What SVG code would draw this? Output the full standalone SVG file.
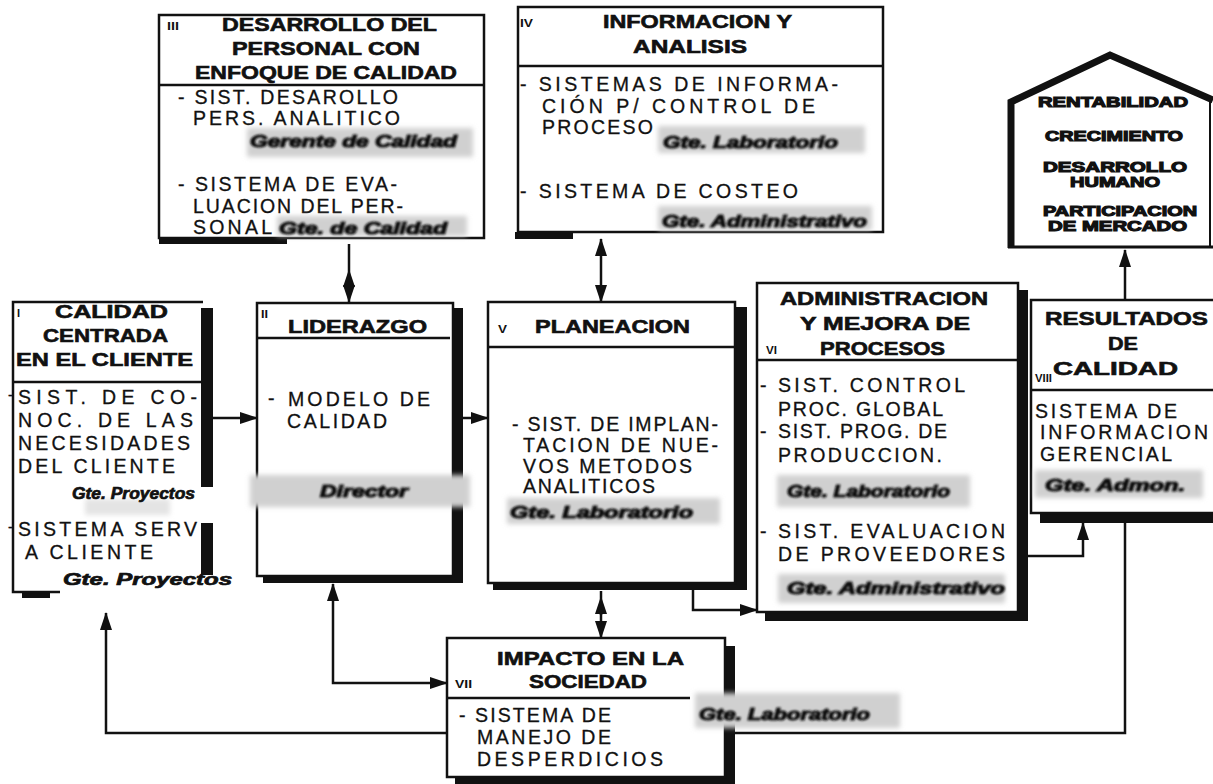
<svg xmlns="http://www.w3.org/2000/svg" width="1213" height="784" viewBox="0 0 1213 784">
  <defs>
    <style>
      .box{fill:#fff;stroke:#111;stroke-width:2.5}
      .open{fill:none;stroke:#111;stroke-width:2.5}
      .dv{stroke:#111;stroke-width:2.5}
      .sh{fill:#111}
      .hd{font-family:"Liberation Sans",Arial,sans-serif;font-weight:bold;font-size:18px;fill:#111;stroke:#111;stroke-width:0.6}
      .num{font-family:"Liberation Sans",Arial,sans-serif;font-weight:bold;font-size:11px;fill:#111}
      .bd{font-family:"Liberation Sans",Arial,sans-serif;font-size:19.5px;fill:#111;stroke:#111;stroke-width:0.3}
      .gt{font-family:"Liberation Sans",Arial,sans-serif;font-weight:bold;font-style:italic;font-size:16px;fill:#111;stroke:#111;stroke-width:1.1;filter:url(#smudge)}
      .gt2{font-family:"Liberation Sans",Arial,sans-serif;font-weight:bold;font-style:italic;font-size:16px;fill:#111;stroke:#111;stroke-width:0.7}
      .band{fill:#d0d0d0;filter:url(#haze)}
      .faint{fill:#e4e4e4;filter:url(#haze)}
      .hs{font-family:"Liberation Sans",Arial,sans-serif;font-weight:bold;font-size:14px;fill:#111;stroke:#111;stroke-width:1.1}
      .ln{fill:none;stroke:#111;stroke-width:2.5}
    </style>
    <filter id="haze" x="-10%" y="-40%" width="120%" height="180%">
      <feGaussianBlur stdDeviation="2.5"/>
    </filter>
    <filter id="smudge" x="-5%" y="-30%" width="110%" height="160%">
      <feGaussianBlur stdDeviation="0.8"/>
    </filter>
    <marker id="ah" markerUnits="userSpaceOnUse" markerWidth="18" markerHeight="12" refX="17" refY="6" orient="auto-start-reverse">
      <path d="M0,0 L18,6 L0,12 Z" fill="#111"/>
    </marker>
  </defs>

  <rect width="1213" height="784" fill="#fff"/>

  <!-- III: staff development -->
  <g id="box3">
    <rect class="sh" x="159" y="237" width="128" height="7"/>
    <rect class="box" x="159" y="15" width="325" height="223"/>
    <line class="dv" x1="159" y1="85" x2="484" y2="85"/>
    <text class="num" x="167" y="30" textLength="12" lengthAdjust="spacingAndGlyphs">III</text>
    <text class="hd" x="222" y="31" textLength="215" lengthAdjust="spacingAndGlyphs">DESARROLLO DEL</text>
    <text class="hd" x="232" y="55" textLength="188" lengthAdjust="spacingAndGlyphs">PERSONAL CON</text>
    <text class="hd" x="195" y="79" textLength="262" lengthAdjust="spacingAndGlyphs">ENFOQUE DE CALIDAD</text>
    <text class="bd" x="178" y="104" textLength="220" lengthAdjust="spacing">- SIST. DESAROLLO</text>
    <text class="bd" x="193" y="125" textLength="207" lengthAdjust="spacing">PERS. ANALITICO</text>
    <rect class="band" x="247" y="128" width="226" height="29"/>
    <text class="gt" x="250" y="147" textLength="207" lengthAdjust="spacingAndGlyphs">Gerente de Calidad</text>
    <text class="bd" x="178" y="191" textLength="219" lengthAdjust="spacing">- SISTEMA DE EVA-</text>
    <text class="bd" x="193" y="213" textLength="210" lengthAdjust="spacing">LUACION DEL PER-</text>
    <text class="bd" x="193" y="234" textLength="79" lengthAdjust="spacing">SONAL</text>
    <rect class="band" x="277" y="216" width="190" height="20"/>
    <text class="gt" x="279" y="234" textLength="168" lengthAdjust="spacingAndGlyphs">Gte. de Calidad</text>
  </g>

  <!-- IV: information and analysis -->
  <g id="box4">
    <rect class="sh" x="515" y="232" width="58" height="7"/>
    <rect class="box" x="518" y="7" width="365" height="225"/>
    <line class="dv" x1="518" y1="66" x2="883" y2="66"/>
    <text class="num" x="520" y="27" textLength="13" lengthAdjust="spacingAndGlyphs">IV</text>
    <text class="hd" x="603" y="28" textLength="189" lengthAdjust="spacingAndGlyphs">INFORMACION Y</text>
    <text class="hd" x="633" y="53" textLength="114" lengthAdjust="spacingAndGlyphs">ANALISIS</text>
    <text class="bd" x="520" y="91" textLength="318" lengthAdjust="spacing">- SISTEMAS DE INFORMA-</text>
    <text class="bd" x="542" y="113" textLength="273" lengthAdjust="spacing">CIÓN P/ CONTROL DE</text>
    <text class="bd" x="542" y="134" textLength="111" lengthAdjust="spacing">PROCESO</text>
    <rect class="band" x="658" y="126" width="207" height="27"/>
    <text class="gt" x="663" y="148" textLength="175" lengthAdjust="spacingAndGlyphs">Gte. Laboratorio</text>
    <text class="bd" x="520" y="198" textLength="278" lengthAdjust="spacing">- SISTEMA DE COSTEO</text>
    <rect class="band" x="658" y="206" width="214" height="24"/>
    <text class="gt" x="662" y="227" textLength="205" lengthAdjust="spacingAndGlyphs">Gte. Administrativo</text>
  </g>

  <!-- results house -->
  <g id="house">
    <path class="open" d="M1011,248 V102 L1110,55 L1213,100" style="stroke-width:7;stroke-linejoin:miter"/>
    <path class="open" d="M1008,247 H1213" style="stroke-width:3"/>
    <path class="open" d="M1210,100 V247" style="stroke-width:2"/>
    <text class="hs" x="1038" y="107" textLength="150" lengthAdjust="spacingAndGlyphs">RENTABILIDAD</text>
    <text class="hs" x="1045" y="141" textLength="138" lengthAdjust="spacingAndGlyphs">CRECIMIENTO</text>
    <text class="hs" x="1043" y="172" textLength="144" lengthAdjust="spacingAndGlyphs">DESARROLLO</text>
    <text class="hs" x="1070" y="187" textLength="90" lengthAdjust="spacingAndGlyphs">HUMANO</text>
    <text class="hs" x="1043" y="216" textLength="154" lengthAdjust="spacingAndGlyphs">PARTICIPACION</text>
    <text class="hs" x="1048" y="231" textLength="139" lengthAdjust="spacingAndGlyphs">DE MERCADO</text>
  </g>

  <!-- I: customer-centred quality -->
  <g id="box1">
    <rect class="sh" x="201" y="308" width="12" height="179"/>
    <rect class="sh" x="201" y="523" width="12" height="52"/>
    <rect class="sh" x="22" y="591" width="28" height="7"/>
    <path class="open" d="M60,592 H13 V302 H203"/>
    <line class="dv" x1="13" y1="382" x2="203" y2="382"/>
    <text class="num" x="17" y="317">I</text>
    <text class="hd" x="55" y="318" textLength="113" lengthAdjust="spacingAndGlyphs">CALIDAD</text>
    <text class="hd" x="43" y="342" textLength="125" lengthAdjust="spacingAndGlyphs">CENTRADA</text>
    <text class="hd" x="16" y="366" textLength="177" lengthAdjust="spacingAndGlyphs">EN EL CLIENTE</text>
    <text class="bd" x="8" y="400" style="font-size:14px">-</text>
    <text class="bd" x="18" y="404" textLength="179" lengthAdjust="spacing">SIST. DE CO-</text>
    <text class="bd" x="18" y="427" textLength="175" lengthAdjust="spacing">NOC. DE LAS</text>
    <text class="bd" x="18" y="450" textLength="172" lengthAdjust="spacing">NECESIDADES</text>
    <text class="bd" x="18" y="473" textLength="157" lengthAdjust="spacing">DEL CLIENTE</text>
    <rect class="faint" x="85" y="499" width="85" height="16"/>
    <text class="gt2" x="72" y="499" textLength="123" lengthAdjust="spacingAndGlyphs">Gte. Proyectos</text>
    <text class="bd" x="8" y="532" style="font-size:14px">-</text>
    <text class="bd" x="18" y="536" textLength="179" lengthAdjust="spacing">SISTEMA SERV</text>
    <text class="bd" x="25" y="559" textLength="128" lengthAdjust="spacing">A CLIENTE</text>
    <text class="gt2" x="63" y="585" textLength="169" lengthAdjust="spacingAndGlyphs">Gte. Proyectos</text>
  </g>

  <!-- II: leadership -->
  <g id="box2">
    <rect class="sh" x="453" y="308" width="10" height="275"/>
    <rect class="sh" x="263" y="576" width="200" height="7"/>
    <rect class="box" x="257" y="303" width="196" height="273"/>
    <line class="dv" x1="257" y1="338" x2="450" y2="338"/>
    <text class="num" x="261" y="318" textLength="7" lengthAdjust="spacingAndGlyphs">II</text>
    <text class="hd" x="288" y="333" textLength="139" lengthAdjust="spacingAndGlyphs">LIDERAZGO</text>
    <text class="bd" x="268" y="405">-</text>
    <text class="bd" x="288" y="406" textLength="142" lengthAdjust="spacing">MODELO DE</text>
    <text class="bd" x="287" y="428" textLength="100" lengthAdjust="spacing">CALIDAD</text>
    <rect class="band" x="250" y="475" width="220" height="32"/>
    <text class="gt" x="320" y="497" textLength="88" lengthAdjust="spacingAndGlyphs">Director</text>
  </g>

  <!-- V: planning -->
  <g id="box5">
    <rect class="sh" x="735" y="307" width="12" height="283"/>
    <rect class="sh" x="493" y="583" width="254" height="7"/>
    <rect class="box" x="488" y="302" width="247" height="281"/>
    <line class="dv" x1="488" y1="347" x2="735" y2="347"/>
    <text class="num" x="498" y="333" textLength="9" lengthAdjust="spacingAndGlyphs">V</text>
    <text class="hd" x="535" y="333" textLength="155" lengthAdjust="spacingAndGlyphs">PLANEACION</text>
    <text class="bd" x="512" y="431" textLength="206" lengthAdjust="spacing">- SIST. DE IMPLAN-</text>
    <text class="bd" x="523" y="452" textLength="195" lengthAdjust="spacing">TACION DE NUE-</text>
    <text class="bd" x="523" y="473" textLength="169" lengthAdjust="spacing">VOS METODOS</text>
    <text class="bd" x="523" y="493" textLength="132" lengthAdjust="spacing">ANALITICOS</text>
    <rect class="band" x="507" y="498" width="213" height="26"/>
    <text class="gt" x="510" y="518" textLength="183" lengthAdjust="spacingAndGlyphs">Gte. Laboratorio</text>
  </g>

  <!-- VI: process management -->
  <g id="box6">
    <rect class="sh" x="1018" y="290" width="10" height="331"/>
    <rect class="sh" x="765" y="612" width="263" height="9"/>
    <rect class="box" x="757" y="283" width="261" height="329"/>
    <line class="dv" x1="757" y1="360" x2="1018" y2="360"/>
    <text class="hd" x="780" y="305" textLength="208" lengthAdjust="spacingAndGlyphs">ADMINISTRACION</text>
    <text class="hd" x="800" y="330" textLength="170" lengthAdjust="spacingAndGlyphs">Y MEJORA DE</text>
    <text class="num" x="766" y="354" textLength="11" lengthAdjust="spacingAndGlyphs">VI</text>
    <text class="hd" x="820" y="355" textLength="125" lengthAdjust="spacingAndGlyphs">PROCESOS</text>
    <text class="bd" x="760" y="392">-</text>
    <text class="bd" x="778" y="392" textLength="187" lengthAdjust="spacing">SIST. CONTROL</text>
    <text class="bd" x="778" y="416" textLength="165" lengthAdjust="spacing">PROC. GLOBAL</text>
    <text class="bd" x="760" y="438">-</text>
    <text class="bd" x="778" y="438" textLength="169" lengthAdjust="spacing">SIST. PROG. DE</text>
    <text class="bd" x="778" y="462" textLength="164" lengthAdjust="spacing">PRODUCCION.</text>
    <rect class="band" x="777" y="475" width="193" height="32"/>
    <text class="gt" x="787" y="497" textLength="163" lengthAdjust="spacingAndGlyphs">Gte. Laboratorio</text>
    <text class="bd" x="760" y="538">-</text>
    <text class="bd" x="778" y="538" textLength="227" lengthAdjust="spacing">SIST. EVALUACION</text>
    <text class="bd" x="778" y="561" textLength="227" lengthAdjust="spacing">DE PROVEEDORES</text>
    <rect class="band" x="778" y="574" width="227" height="29"/>
    <text class="gt" x="787" y="594" textLength="218" lengthAdjust="spacingAndGlyphs">Gte. Administrativo</text>
  </g>

  <!-- VIII: quality results -->
  <g id="box8">
    <rect class="sh" x="1040" y="513" width="173" height="10"/>
    <rect class="box" x="1031" y="300" width="190" height="213"/>
    <line class="dv" x1="1031" y1="390" x2="1213" y2="390"/>
    <text class="hd" x="1045" y="325" textLength="163" lengthAdjust="spacingAndGlyphs">RESULTADOS</text>
    <text class="hd" x="1108" y="350" textLength="30" lengthAdjust="spacingAndGlyphs">DE</text>
    <text class="num" x="1035" y="382" textLength="17" lengthAdjust="spacingAndGlyphs">VIII</text>
    <text class="hd" x="1053" y="375" textLength="125" lengthAdjust="spacingAndGlyphs">CALIDAD</text>
    <text class="bd" x="1035" y="418" textLength="142" lengthAdjust="spacing">SISTEMA DE</text>
    <text class="bd" x="1040" y="439" textLength="168" lengthAdjust="spacing">INFORMACION</text>
    <text class="bd" x="1040" y="461" textLength="132" lengthAdjust="spacing">GERENCIAL</text>
    <rect class="band" x="1035" y="470" width="168" height="28"/>
    <text class="gt" x="1045" y="491" textLength="140" lengthAdjust="spacingAndGlyphs">Gte. Admon.</text>
  </g>

  <!-- VII: impact on society -->
  <g id="box7">
    <rect class="sh" x="725" y="646" width="10" height="138"/>
    <rect class="sh" x="455" y="777" width="280" height="7"/>
    <rect class="box" x="447" y="638" width="278" height="139"/>
    <line class="dv" x1="447" y1="698" x2="690" y2="698"/>
    <text class="hd" x="497" y="665" textLength="187" lengthAdjust="spacingAndGlyphs">IMPACTO EN LA</text>
    <text class="num" x="455" y="688" textLength="17" lengthAdjust="spacingAndGlyphs">VII</text>
    <text class="hd" x="529" y="688" textLength="118" lengthAdjust="spacingAndGlyphs">SOCIEDAD</text>
    <text class="bd" x="459" y="722" textLength="152" lengthAdjust="spacing">- SISTEMA DE</text>
    <text class="bd" x="477" y="744" textLength="134" lengthAdjust="spacing">MANEJO DE</text>
    <text class="bd" x="477" y="766" textLength="186" lengthAdjust="spacing">DESPERDICIOS</text>
    <rect class="band" x="695" y="693" width="205" height="35"/>
    <text class="gt" x="699" y="720" textLength="171" lengthAdjust="spacingAndGlyphs">Gte. Laboratorio</text>
  </g>

  <!-- connectors -->
  <g id="connectors">
    <!-- II <-> III -->
    <path class="ln" d="M349,244 V270"/>
    <path class="ln" d="M349,288 V270" marker-end="url(#ah)"/>
    <path class="ln" d="M349,286 V302" marker-end="url(#ah)"/>
    <!-- IV <-> V -->
    <path class="ln" d="M601,239 V302" marker-start="url(#ah)" marker-end="url(#ah)"/>
    <!-- I -> II -->
    <path class="ln" d="M213,418 H257" marker-end="url(#ah)"/>
    <!-- II -> V -->
    <path class="ln" d="M463,418 H488" marker-end="url(#ah)"/>
    <!-- V -> VI -->
    <path class="ln" d="M693,590 V610 H757" marker-end="url(#ah)"/>
    <!-- V <-> VII -->
    <path class="ln" d="M601,591 V597"/>
    <path class="ln" d="M601,615 V597" marker-end="url(#ah)"/>
    <path class="ln" d="M601,613 V638" marker-end="url(#ah)"/>
    <!-- II <-> VII -->
    <path class="ln" d="M333,584 V683 H447" marker-start="url(#ah)" marker-end="url(#ah)"/>
    <!-- VII -> I -->
    <path class="ln" d="M447,733 H106 V613" marker-end="url(#ah)"/>
    <!-- VII - VIII -->
    <path class="ln" d="M735,733 H1125 V523"/>
    <!-- VI -> VIII -->
    <path class="ln" d="M1028,556 H1083 V523" marker-end="url(#ah)"/>
    <!-- VIII -> results -->
    <path class="ln" d="M1125,300 V250" marker-end="url(#ah)"/>
  </g>
</svg>
